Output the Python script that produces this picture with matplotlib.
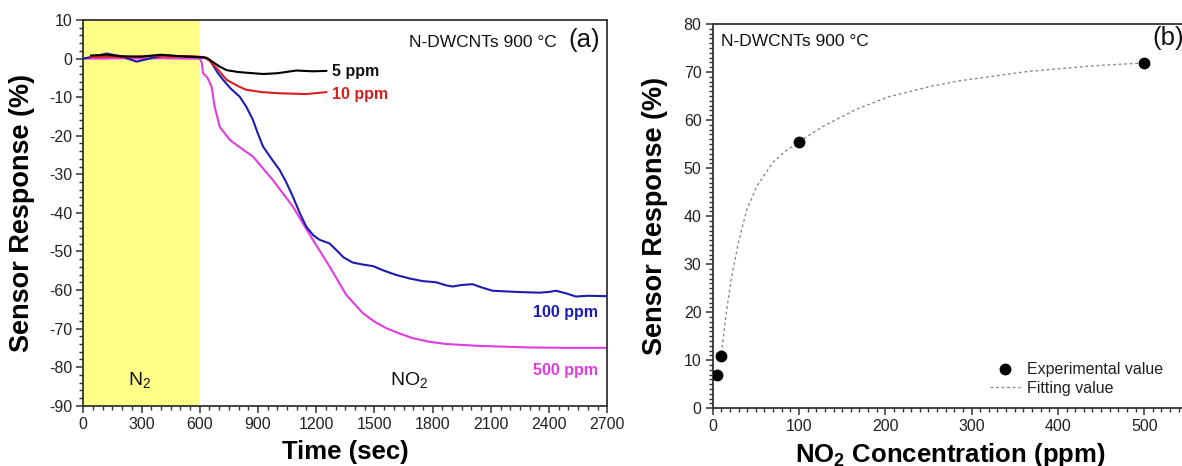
import matplotlib
matplotlib.use("Agg")
import matplotlib.pyplot as plt
from matplotlib.ticker import MultipleLocator
from matplotlib.lines import Line2D

plt.rcParams['font.family'] = ['Liberation Sans', 'DejaVu Sans']
plt.rcParams['mathtext.fontset'] = 'custom'
plt.rcParams['mathtext.rm'] = 'Liberation Sans'
plt.rcParams['mathtext.it'] = 'Liberation Sans:italic'
plt.rcParams['mathtext.bf'] = 'Liberation Sans:bold'
plt.rcParams['axes.unicode_minus'] = False

# ---------------- data (a): response vs time ----------------
t_5ppm = [40, 120, 200, 300, 400, 500, 600, 636, 700, 738, 800, 926, 1000, 1098, 1180, 1252]
r_5ppm = [0.8, 1.0, 0.6, 0.5, 1.0, 0.6, 0.4, 0.2, -2.0, -3.0, -3.5, -4.0, -3.8, -3.1, -3.3, -3.2]

t_10ppm = [40, 150, 250, 350, 450, 550, 620, 650, 700, 738, 800, 840, 920, 1012, 1080, 1149, 1252]
r_10ppm = [0.4, 0.5, 0.4, 0.7, 0.5, 0.6, 0.4, -0.5, -3.2, -5.5, -7.2, -8.1, -8.7, -9.0, -9.1, -9.2, -8.7]

t_100ppm = [0, 60, 120, 200, 275, 340, 420, 500, 600, 625, 652, 690, 720, 760, 806, 840, 874, 900, 926,
            970, 1012, 1045, 1080, 1115, 1149, 1185, 1218, 1268, 1303, 1340, 1389, 1440, 1492, 1550,
            1612, 1680, 1749, 1818, 1870, 1903, 1950, 2006, 2050, 2109, 2229, 2349, 2400, 2435, 2490,
            2538, 2600, 2692]
r_100ppm = [0.0, 0.6, 1.3, 0.5, -0.8, 0.0, 0.8, 0.6, 0.3, 0.2, -0.4, -3.5, -5.5, -7.8, -9.9, -12.5, -15.9,
            -19.5, -22.8, -26.0, -28.9, -32.0, -35.8, -40.0, -43.6, -45.8, -47.0, -47.9, -49.6, -51.5,
            -52.9, -53.4, -53.8, -55.0, -56.1, -57.0, -57.7, -58.0, -58.8, -59.1, -58.7, -58.5, -59.3,
            -60.2, -60.5, -60.7, -60.5, -60.2, -60.9, -61.7, -61.5, -61.6]

t_500ppm = [0, 100, 200, 300, 400, 500, 600, 610, 617, 640, 661, 677, 703, 755, 820, 874, 977, 1080,
            1183, 1270, 1354, 1440, 1500, 1561, 1630, 1698, 1780, 1869, 2040, 2298, 2500, 2692]
r_500ppm = [0.0, 0.0, 0.1, 0.0, 0.1, 0.0, 0.0, -1.0, -3.8, -5.0, -7.3, -12.5, -17.7, -21.1, -23.5, -25.4,
            -31.5, -38.4, -47.0, -54.0, -61.2, -66.0, -68.2, -69.9, -71.3, -72.5, -73.4, -74.0, -74.5,
            -74.9, -75.0, -75.0]

# ---------------- data (b): response vs concentration ----------------
conc_exp = [5, 10, 100, 500]
resp_exp = [7.0, 10.9, 55.5, 71.9]

conc_fit = [10, 16.2, 22.0, 29.7, 39.4, 51.0, 70.2, 85, 100, 128, 167, 205, 252, 287, 364, 441, 500]
resp_fit = [11.5, 20.5, 27.4, 34.4, 41.3, 46.2, 51.3, 53.6, 55.5, 58.7, 62.3, 64.9, 67.0, 68.2, 70.1,
            71.3, 71.9]

# ---------------- figure ----------------
W, H = 1182, 466
fig = plt.figure(figsize=(W / 100, H / 100), dpi=100)

axL = fig.add_axes([83.3 / W, 1 - 405.7 / H, (607.3 - 83.3) / W, (405.7 - 20) / H])
axR = fig.add_axes([712.7 / W, 1 - 408.3 / H, 517.8 / W, (408.3 - 24) / H])

tick_col = '#222222'
for ax in (axL, axR):
    for s in ax.spines.values():
        s.set_linewidth(1.3)
        s.set_color('#333333')
    ax.tick_params(which='major', direction='out', length=5, width=1.1, labelsize=11.5,
                   colors='#333333', labelcolor=tick_col, pad=3)
    ax.tick_params(which='minor', direction='out', length=3, width=1.0, colors='#333333')
    ax.tick_params(top=False, right=False)

# ---- left panel ----
axL.axvspan(0, 600, color='#ffff88', lw=0, zorder=0)
axL.plot(t_500ppm, r_500ppm, color='#e03ce0', lw=1.5, zorder=2)
axL.plot(t_100ppm, r_100ppm, color='#1c1cae', lw=1.5, zorder=3)
axL.plot(t_10ppm, r_10ppm, color='#d91e1e', lw=1.5, zorder=4)
axL.plot(t_5ppm, r_5ppm, color='#000000', lw=1.5, zorder=5)

axL.set_xlim(0, 2700)
axL.set_ylim(-90, 10)
axL.xaxis.set_major_locator(MultipleLocator(300))
axL.xaxis.set_minor_locator(MultipleLocator(50))
axL.yaxis.set_major_locator(MultipleLocator(10))
axL.yaxis.set_minor_locator(MultipleLocator(2))

axL.set_xlabel('Time (sec)', fontsize=18.5, fontweight='bold')
axL.set_ylabel('Sensor Response (%)', fontsize=19.5, fontweight='bold')
axL.xaxis.set_label_coords(0.5, -0.09)
axL.yaxis.set_label_coords(-0.093, 0.5)

axL.text(1283, -3.4, '5 ppm', color='#111111', fontsize=11.5, fontweight='bold', va='center', ha='left')
axL.text(1283, -9.3, '10 ppm', color='#d91e1e', fontsize=11.5, fontweight='bold', va='center', ha='left')
axL.text(2650, -65.8, '100 ppm', color='#1c1cae', fontsize=11.5, fontweight='bold', va='center', ha='right')
axL.text(2650, -81.0, '500 ppm', color='#e03ce0', fontsize=11.5, fontweight='bold', va='center', ha='right')
axL.text(292, -84.6, r'N$_2$', fontsize=14, ha='center', va='baseline', color='#111111')
axL.text(1680, -84.6, r'NO$_2$', fontsize=14, ha='center', va='baseline', color='#111111')

axL.text(0.9035, 0.931, 'N-DWCNTs 900 °C', transform=axL.transAxes, fontsize=12.5,
         ha='right', va='baseline', color='#111111')
axL.text(0.987, 0.931, '(a)', transform=axL.transAxes, fontsize=18.5,
         ha='right', va='baseline', color='#111111')

# ---- right panel ----
axR.plot(conc_fit, resp_fit, color='#8a8a8a', lw=1.0, ls=(0, (2, 2)), zorder=2)
axR.plot(conc_exp, resp_exp, 'o', color='black', ms=7.5, zorder=3)
axR.set_xlim(0, 600)
axR.set_ylim(0, 80)
axR.xaxis.set_major_locator(MultipleLocator(100))
axR.xaxis.set_minor_locator(MultipleLocator(10))
axR.yaxis.set_major_locator(MultipleLocator(10))
axR.yaxis.set_minor_locator(MultipleLocator(1))

axR.set_xlabel(r'NO$_\mathbf{2}$ Concentration (ppm)', fontsize=18.5, fontweight='bold')
axR.set_ylabel('Sensor Response (%)', fontsize=19.5, fontweight='bold')
axR.xaxis.set_label_coords(0.458, -0.085)
axR.yaxis.set_label_coords(-0.087, 0.5)

axR.text(9.3, 75.5, 'N-DWCNTs 900 °C', fontsize=12.5, ha='left', va='baseline', color='#111111')
axR.text(510, 75.7, '(b)', fontsize=18.5, ha='left', va='baseline', color='#111111')

handles = [Line2D([], [], marker='o', ls='none', color='black', ms=7.5),
           Line2D([], [], color='#8a8a8a', lw=1.0, ls=(0, (2, 2)))]
leg = axR.legend(handles, ['Experimental value', 'Fitting value'], loc='center left',
                 bbox_to_anchor=(0.5355, 0.076), frameon=False, fontsize=11.5,
                 borderpad=0, borderaxespad=0, handlelength=1.9, handletextpad=0.4,
                 labelspacing=0.25)
for txt in leg.get_texts():
    txt.set_color('#222222')

fig.savefig('out.png', dpi=100)
